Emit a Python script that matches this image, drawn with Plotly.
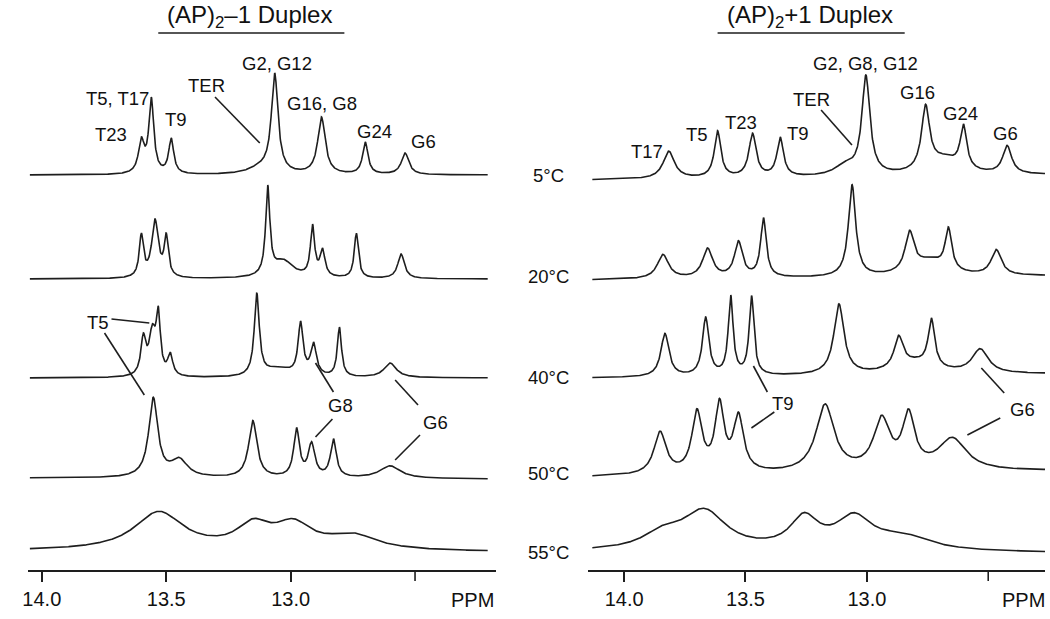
import numpy as np
import plotly.graph_objects as go

W, H = 1050, 619

# ---------------- data ----------------
temps = ["5°C", "20°C", "40°C", "50°C", "55°C"]

# (AP)2-1 duplex: peak positions (ppm), apex heights (a.u.), half widths (ppm)
L05_ppm = [13.60, 13.56, 13.48, 13.12, 13.064, 12.876, 12.70, 12.54]
L05_h   = [38, 78, 37, 14, 102, 58, 33, 22]
L05_w   = [0.014, 0.012, 0.012, 0.06, 0.016, 0.018, 0.013, 0.018]

L20_ppm = [13.60, 13.545, 13.50, 13.092, 13.03, 12.912, 12.872, 12.736, 12.556]
L20_h   = [46, 60, 46, 94, 20, 55, 31, 46, 25]
L20_w   = [0.010, 0.016, 0.010, 0.010, 0.05, 0.010, 0.012, 0.010, 0.016]

L40_ppm = [13.592, 13.556, 13.532, 13.484, 13.136, 13.05, 12.96, 12.908, 12.804, 12.60]
L40_h   = [45, 54, 72, 26, 85, 12, 57, 36, 51, 15]
L40_w   = [0.012, 0.016, 0.010, 0.012, 0.012, 0.06, 0.012, 0.014, 0.010, 0.03]

L50_ppm = [13.552, 13.448, 13.152, 12.976, 12.916, 12.828, 12.60]
L50_h   = [81, 21, 58, 51, 37, 40, 13]
L50_w   = [0.022, 0.04, 0.02, 0.014, 0.016, 0.014, 0.05]

L55_ppm = [13.53, 13.15, 12.99, 12.75]
L55_h   = [40, 33, 33, 19]
L55_w   = [0.12, 0.08, 0.09, 0.12]

# (AP)2+1 duplex
R05_ppm = [13.816, 13.615, 13.471, 13.357, 13.09, 13.004, 12.758, 12.68, 12.602, 12.422]
R05_h   = [28, 48, 45, 41, 16, 102, 72, 22, 52, 30]
R05_w   = [0.028, 0.016, 0.018, 0.016, 0.05, 0.02, 0.02, 0.08, 0.016, 0.022]

R20_ppm = [13.840, 13.656, 13.529, 13.426, 13.061, 12.824, 12.74, 12.664, 12.467]
R20_h   = [25, 31, 38, 61, 93, 47, 20, 50, 27]
R20_w   = [0.028, 0.025, 0.02, 0.014, 0.018, 0.022, 0.08, 0.016, 0.025]

R40_ppm = [13.832, 13.664, 13.561, 13.475, 13.115, 12.869, 12.80, 12.734, 12.533]
R40_h   = [44, 60, 82, 81, 72, 40, 18, 57, 26]
R40_w   = [0.02, 0.016, 0.012, 0.012, 0.025, 0.022, 0.10, 0.016, 0.04]

R50_ppm = [13.852, 13.70, 13.607, 13.529, 13.172, 12.939, 12.828, 12.648]
R50_h   = [45, 67, 77, 63, 70, 58, 64, 35]
R50_w   = [0.03, 0.025, 0.022, 0.025, 0.045, 0.04, 0.03, 0.07]

R55_ppm = [13.84, 13.67, 13.258, 13.053, 12.85]
R55_h   = [27, 44, 40, 40, 20]
R55_w   = [0.10, 0.11, 0.07, 0.09, 0.14]

tick_vals = [14.0, 13.5, 13.0]
tick_text = ["14.0", "13.5", "13.0"]
unlabeled_tick = 12.5

# ---------------- layout constants (pixels) ----------------
L_base = [(175, 175), (279, 279), (378, 378), (478, 479), (551, 552)]
R_base = [(180, 175), (280, 276), (378, 374), (477, 471), (552, 553)]
L_span = (14.048, 12.208)
R_span = (14.131, 12.266)
L_range = (14.056, 12.176)
R_range = (14.148, 12.266)
L_dom = (23, 493)
R_dom = (586, 1045)
LINE = "#1e1e1e"
FONT = "Liberation Sans, Arial, sans-serif"
LAB = 18.5


def spectrum(x, ppm, h, w):
    c = np.asarray(ppm, float)
    w = np.asarray(w, float)
    A = 1.0 / (1.0 + ((c[:, None] - c[None, :]) / w[None, :]) ** 2)
    amp = np.clip(np.linalg.solve(A, np.asarray(h, float)), 0, None)
    return (amp[None, :] / (1.0 + ((x[:, None] - c[None, :]) / w[None, :]) ** 2)).sum(axis=1)


fig = go.Figure()

left = [(L05_ppm, L05_h, L05_w), (L20_ppm, L20_h, L20_w), (L40_ppm, L40_h, L40_w),
        (L50_ppm, L50_h, L50_w), (L55_ppm, L55_h, L55_w)]
right = [(R05_ppm, R05_h, R05_w), (R20_ppm, R20_h, R20_w), (R40_ppm, R40_h, R40_w),
         (R50_ppm, R50_h, R50_w), (R55_ppm, R55_h, R55_w)]

for panel, bases, span, xa in [(left, L_base, L_span, "x"), (right, R_base, R_span, "x2")]:
    x = np.linspace(span[0], span[1], 1400)
    for (ppm, h, w), (b0, b1) in zip(panel, bases):
        base = b0 + (b1 - b0) * (span[0] - x) / (span[0] - span[1])
        y = base - spectrum(x, ppm, h, w)
        fig.add_trace(go.Scatter(x=x, y=y, mode="lines", xaxis=xa, yaxis="y",
                                 line=dict(color=LINE, width=1.6), showlegend=False,
                                 hoverinfo="skip"))

axis_y = 571
axcommon = dict(tickmode="array", tickvals=tick_vals, ticktext=tick_text,
                ticks="outside", ticklen=10, tickwidth=1.6, tickcolor=LINE,
                showline=True, linecolor=LINE, linewidth=1.6, showgrid=False,
                zeroline=False, anchor="free", position=(H - axis_y) / H,
                tickfont=dict(size=20, family=FONT, color="#111"), fixedrange=True)

fig.update_layout(
    width=W, height=H, margin=dict(l=0, r=0, t=0, b=0),
    paper_bgcolor="white", plot_bgcolor="white",
    xaxis=dict(domain=[L_dom[0] / W, L_dom[1] / W], range=list(L_range), **axcommon),
    xaxis2=dict(domain=[R_dom[0] / W, R_dom[1] / W], range=list(R_range), **axcommon),
    yaxis=dict(domain=[0, 1], range=[H, 0], visible=False, fixedrange=True),
    font=dict(family=FONT, color="#111"),
)


def px(xp, yp):
    return xp / W, 1 - yp / H


annots = []
shapes = []


def text(xp, yp, s, size=LAB):
    x, y = px(xp, yp)
    annots.append(dict(x=x, y=y, xref="paper", yref="paper", text=s, showarrow=False,
                       xanchor="center", yanchor="middle",
                       font=dict(size=size, family=FONT, color="#111")))


def seg(x0, y0, x1, y1):
    a0, b0 = px(x0, y0)
    a1, b1 = px(x1, y1)
    shapes.append(dict(type="line", xref="paper", yref="paper", x0=a0, y0=b0, x1=a1, y1=b1,
                       line=dict(color=LINE, width=1.6)))


# unlabeled 12.5 ticks
for rng, dom in [(L_range, L_dom), (R_range, R_dom)]:
    xt = dom[0] + (rng[0] - unlabeled_tick) / (rng[0] - rng[1]) * (dom[1] - dom[0])
    seg(xt, axis_y, xt, axis_y + 10)

# titles
text(246, 16, "(AP)<sub>2</sub>–1 Duplex", 24)
seg(154, 33, 341, 33)
text(809, 16, "(AP)<sub>2</sub>+1 Duplex", 24)
seg(716, 33, 904, 33)

# left panel labels
text(107, 135, "T23")
text(113, 98, "T5, T17")
text(172, 119, "T9")
text(202, 86, "TER")
seg(211, 97, 256, 143)
text(273, 63, "G2, G12")
text(319, 104, "G16, G8")
text(371, 131, "G24")
text(421, 141, "G6")

text(93, 322, "T5")
seg(107, 319, 145, 323)
seg(100, 333, 140, 395)
seg(312, 363, 330, 392)
text(337, 405, "G8")
seg(329, 419, 312, 437)
seg(392, 380, 415, 405)
text(433, 422, "G6")
seg(417, 435, 392, 460)

# right panel labels
text(645, 151, "T17")
text(695, 135, "T5")
text(740, 122, "T23")
text(797, 133, "T9")
text(810, 99, "TER")
seg(820, 110, 851, 145)
text(865, 63, "G2, G8, G12")
text(917, 92, "G16")
text(960, 113, "G24")
text(1005, 133, "G6")

seg(752, 366, 766, 392)
text(782, 403, "T9")
seg(773, 412, 750, 428)
seg(981, 368, 1004, 393)
text(1022, 409, "G6")
seg(1000, 418, 967, 435)

# temperatures
for t, yp in zip(temps, [175, 277, 377, 473, 552]):
    text(546, yp, t)

# PPM labels
text(470, 600, "PPM", 20)
text(1023, 600, "PPM", 20)

fig.update_layout(annotations=annots, shapes=shapes)
fig.write_html("out.html", config={"displayModeBar": False},
               post_script="document.body.style.margin='0';document.body.style.padding='0';"
                           "document.documentElement.style.overflow='hidden';")
